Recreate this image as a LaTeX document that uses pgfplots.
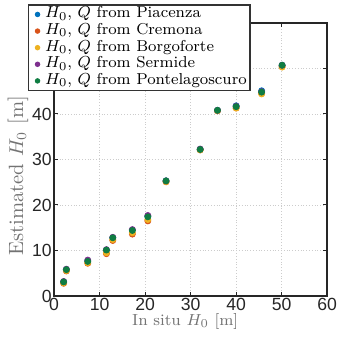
\documentclass[border=0pt]{standalone}
\usepackage{pgfplots}
\pgfplotsset{compat=1.18}
\usepackage{fontspec}
\newfontfamily\ticksf{Liberation Sans}
\definecolor{mblue}{rgb}{0,0.447,0.741}
\definecolor{morange}{rgb}{0.85,0.325,0.098}
\definecolor{myellow}{rgb}{0.929,0.694,0.125}
\definecolor{mpurple}{rgb}{0.494,0.184,0.556}
\definecolor{mgreen}{rgb}{0.06,0.49,0.26}
\begin{document}
\begin{tikzpicture}
\begin{axis}[
  scale only axis, width=136.5pt, height=136.5pt,
  xmin=0, xmax=60, ymin=0, ymax=60,
  xtick={0,10,...,60}, ytick={0,10,...,60},
  yticklabels={0,10,20,30,40,,},
  grid=major,
  grid style={densely dotted, gray!40, line width=0.4pt},
  axis line style={black!85, line width=0.8pt},
  tick style={black!85, line width=0.5pt},
  tick align=inside, major tick length=2pt,
  /pgf/number format/assume math mode=true,
  ticklabel style={font=\ticksf\fontsize{8.8}{10}\selectfont, text=black!85, inner sep=1pt},
  xlabel={In situ $H_0$ [m]},
  ylabel={Estimated $H_0$ [m]},
  xlabel style={at={(axis description cs:0.48,-0.092)}, anchor=center,
    font=\fontsize{8}{9}\selectfont, text=black!55},
  ylabel style={at={(axis description cs:-0.132,0.44)}, anchor=center,
    font=\fontsize{10.3}{11}\selectfont, text=black!55},
  legend style={at={(-0.095,1.068)}, anchor=north west,
    font=\fontsize{7.9}{8.5}\selectfont, draw=black!80, line width=0.6pt,
    inner xsep=0.3pt, inner ysep=0.6pt, row sep=0pt, fill=white,
    nodes={inner ysep=0pt, inner xsep=1.3pt, text height=5.9pt, text depth=2.4pt},
    legend cell align=left},
  legend image code/.code={\path (0pt,0pt) (6pt,0pt); \fill[#1] (3.8pt,0pt) circle (1.05pt);},
  clip=false
]
\addplot[only marks, mark=*, mark size=1.5pt, color=mblue] coordinates {
(2.1,3.1)(2.7,5.8)(7.4,7.7)(11.5,10.1)(12.9,12.8)(17.2,14.5)(20.6,17.5)(24.6,25.3)(32.1,32.2)(35.9,40.8)(40.0,41.8)(45.6,45.1)(50.1,50.7)};
\addlegendentry{$H_0$, $Q$ from Piacenza}
\addplot[only marks, mark=*, mark size=1.5pt, color=morange] coordinates {
(2.1,2.8)(2.7,5.5)(7.4,7.2)(11.5,9.3)(12.9,12.2)(17.2,13.6)(20.6,16.5)(24.6,25.1)(32.1,32.1)(35.9,40.7)(40.0,41.3)(45.6,44.5)(50.1,50.4)};
\addlegendentry{$H_0$, $Q$ from Cremona}
\addplot[only marks, mark=*, mark size=1.5pt, color=myellow] coordinates {
(2.1,2.9)(2.7,5.6)(7.4,7.3)(11.5,9.5)(12.9,12.4)(17.2,13.9)(20.6,16.8)(24.6,25.1)(32.1,32.1)(35.9,40.7)(40.0,41.3)(45.6,44.4)(50.1,50.3)};
\addlegendentry{$H_0$, $Q$ from Borgoforte}
\addplot[only marks, mark=*, mark size=1.5pt, color=mpurple] coordinates {
(2.1,3.2)(2.7,5.9)(7.4,7.9)(11.5,10.2)(12.9,12.9)(17.2,14.6)(20.6,17.7)(24.6,25.3)(32.1,32.3)(35.9,40.8)(40.0,41.7)(45.6,44.9)(50.1,50.7)};
\addlegendentry{$H_0$, $Q$ from Sermide}
\addplot[only marks, mark=*, mark size=1.5pt, color=mgreen] coordinates {
(2.1,3.1)(2.7,5.8)(7.4,7.6)(11.5,10.1)(12.9,12.8)(17.2,14.4)(20.6,17.4)(24.6,25.3)(32.1,32.2)(35.9,40.8)(40.0,41.6)(45.6,44.8)(50.1,50.7)};
\addlegendentry{$H_0$, $Q$ from Pontelagoscuro}
\coordinate (bbsw) at (rel axis cs:-0.198,-0.161);
\coordinate (bbne) at (rel axis cs:1.033,1.084);
\end{axis}
\pgfresetboundingbox
\useasboundingbox (bbsw) rectangle (bbne);
\end{tikzpicture}
\end{document}
